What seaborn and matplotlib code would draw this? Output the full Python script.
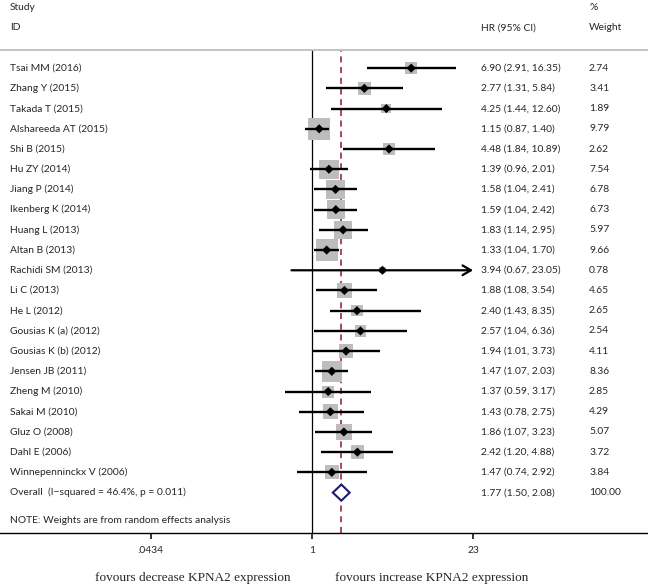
import numpy as np
import pandas as pd
import matplotlib
matplotlib.use('Agg')
import matplotlib.pyplot as plt
import seaborn as sns

# Study data
studies = ['Tsai MM (2016)', 'Zhang Y (2015)', 'Takada T (2015)', 'Alshareeda AT (2015)',
           'Shi B (2015)', 'Hu ZY (2014)', 'Jiang P (2014)', 'Ikenberg K (2014)',
           'Huang L (2013)', 'Altan B (2013)', 'Rachidi SM (2013)', 'Li C (2013)',
           'He L (2012)', 'Gousias K (a) (2012)', 'Gousias K (b) (2012)', 'Jensen JB (2011)',
           'Zheng M (2010)', 'Sakai M (2010)', 'Gluz O (2008)', 'Dahl E (2006)',
           'Winnepenninckx V (2006)']
hr = [6.90, 2.77, 4.25, 1.15, 4.48, 1.39, 1.58, 1.59, 1.83, 1.33, 3.94, 1.88,
      2.40, 2.57, 1.94, 1.47, 1.37, 1.43, 1.86, 2.42, 1.47]
ci_low = [2.91, 1.31, 1.44, 0.87, 1.84, 0.96, 1.04, 1.04, 1.14, 1.04, 0.67, 1.08,
          1.43, 1.04, 1.01, 1.07, 0.59, 0.78, 1.07, 1.20, 0.74]
ci_high = [16.35, 5.84, 12.60, 1.40, 10.89, 2.01, 2.41, 2.42, 2.95, 1.70, 23.05, 3.54,
           8.35, 6.36, 3.73, 2.03, 3.17, 2.75, 3.23, 4.88, 2.92]
weight = [2.74, 3.41, 1.89, 9.79, 2.62, 7.54, 6.78, 6.73, 5.97, 9.66, 0.78, 4.65,
          2.65, 2.54, 4.11, 8.36, 2.85, 4.29, 5.07, 3.72, 3.84]

overall_label = 'Overall  (I\u2212squared = 46.4%, p = 0.011)'
overall_hr, overall_low, overall_high, overall_w = 1.77, 1.50, 2.08, 100.00

tick_vals = [0.0434, 1, 23]
tick_labels = ['.0434', '1', '23']

df = pd.DataFrame({'study': studies, 'hr': hr, 'lo': ci_low, 'hi': ci_high, 'w': weight})
df['row'] = np.arange(len(df))
n = len(df)

sns.set_style('white')
plt.rcParams['font.family'] = ['Lato', 'DejaVu Sans']

fig = plt.figure(figsize=(6.48, 5.88), dpi=100)
ax = fig.add_axes([0, 0.0935, 1, 0.915 - 0.0935])

# x range so that the plot region spans the whole figure width
ax.set_xscale('log')
ax.set_xlim(np.exp(-6.074), np.exp(6.541))
ax.set_ylim(23.0, -0.9)

# reference lines
ax.axvline(1, color='black', lw=0.9, zorder=1)
ax.axvline(overall_hr, color='#8b1a2b', lw=1.1, ls=(0, (4, 3)), zorder=1)

# weight boxes
sns.scatterplot(data=df, x='hr', y='row', marker='s', s=df['w'] * 26,
                color='#bdbdbd', edgecolor='none', linewidth=0, ax=ax, zorder=2, legend=False)

# confidence intervals (clip at axis maximum with an arrow)
xmax = tick_vals[-1]
for _, r in df.iterrows():
    if r.hi > xmax:
        ax.annotate('', xy=(xmax, r.row), xytext=(r.lo, r.row),
                    arrowprops=dict(arrowstyle='->,head_length=0.6,head_width=0.35',
                                    lw=1.6, color='black', shrinkA=0, shrinkB=0), zorder=3)
    else:
        ax.hlines(r.row, r.lo, r.hi, color='black', lw=1.7, zorder=3)

# point estimates
sns.scatterplot(data=df, x='hr', y='row', marker='D', s=22, color='black',
                edgecolor='none', linewidth=0, ax=ax, zorder=4, legend=False)

# overall diamond
orow = n
ax.fill([overall_low, overall_hr, overall_high, overall_hr],
        [orow, orow - 0.4, orow, orow + 0.4],
        facecolor='white', edgecolor='#1c1c6b', lw=1.5, zorder=4)

# text columns
fs = 7.4
tr = ax.get_yaxis_transform()
for _, r in df.iterrows():
    ax.text(10 / 648, r.row, r.study, transform=tr, va='center', ha='left', fontsize=fs)
    ax.text(481 / 648, r.row, f'{r.hr:.2f} ({r.lo:.2f}, {r.hi:.2f})', transform=tr,
            va='center', ha='left', fontsize=fs)
    ax.text(589 / 648, r.row, f'{r.w:.2f}', transform=tr, va='center', ha='left', fontsize=fs)

ax.text(10 / 648, orow, overall_label, transform=tr, va='center', ha='left', fontsize=fs)
ax.text(481 / 648, orow, f'{overall_hr:.2f} ({overall_low:.2f}, {overall_high:.2f})',
        transform=tr, va='center', ha='left', fontsize=fs)
ax.text(589 / 648, orow, f'{overall_w:.2f}', transform=tr, va='center', ha='left', fontsize=fs)
ax.text(10 / 648, 22.4, 'NOTE: Weights are from random effects analysis', transform=tr,
        va='center', ha='left', fontsize=fs)

# headers
ax.text(10 / 648, -3, 'Study', transform=tr, va='center', ha='left', fontsize=fs, clip_on=False)
ax.text(10 / 648, -2, 'ID', transform=tr, va='center', ha='left', fontsize=fs, clip_on=False)
ax.text(481 / 648, -2, 'HR (95% CI)', transform=tr, va='center', ha='left', fontsize=fs, clip_on=False)
ax.text(589 / 648, -3, '%', transform=tr, va='center', ha='left', fontsize=fs, clip_on=False)
ax.text(589 / 648, -2, 'Weight', transform=tr, va='center', ha='left', fontsize=fs, clip_on=False)

# axes styling
for side in ['left', 'right']:
    ax.spines[side].set_visible(False)
ax.spines['top'].set_color('#bebebe')
ax.spines['top'].set_linewidth(1.3)
ax.spines['bottom'].set_color('black')
ax.spines['bottom'].set_linewidth(1.0)
ax.set_yticks([])
ax.set_xticks(tick_vals)
ax.set_xticklabels(tick_labels)
ax.xaxis.set_minor_locator(matplotlib.ticker.NullLocator())
ax.tick_params(axis='x', direction='out', length=4, width=1.1, pad=5, labelsize=fs,
               bottom=True, color='black')
ax.set_xlabel('')
ax.set_ylabel('')

# favours labels
fig.text(193 / 648, 1 - 578 / 588, 'fovours decrease KPNA2 expression', ha='center', va='center',
         family='Liberation Serif', fontsize=9.5)
fig.text(432 / 648, 1 - 578 / 588, 'fovours increase KPNA2 expression', ha='center', va='center',
         family='Liberation Serif', fontsize=9.5)

fig.savefig('out.png', dpi=100)
